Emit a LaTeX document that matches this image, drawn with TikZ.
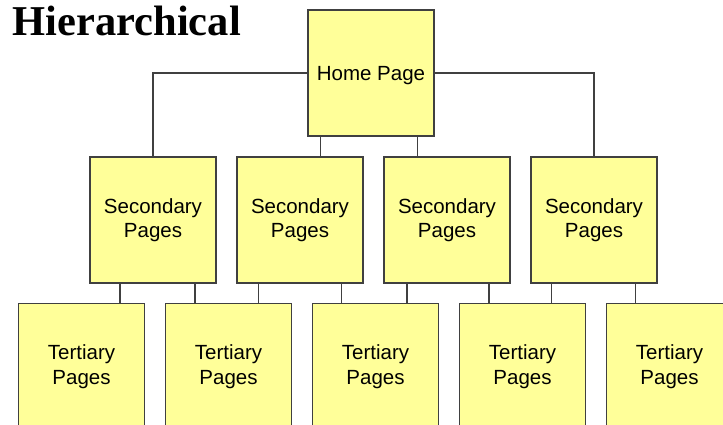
\documentclass[tikz,border=0pt]{standalone}
\usepackage{fontspec}
\setmainfont{Liberation Serif}
\newfontfamily\pagefont{Liberation Sans}
\usepackage{xcolor}
\definecolor{pageyellow}{HTML}{FFFF99}
\definecolor{edgegray}{HTML}{404040}
\tikzset{
  pagebox/.style={draw=edgegray,fill=pageyellow,line width=1.2pt,
    minimum width=126pt,minimum height=126pt,inner sep=0pt,align=center,
    font=\pagefont\fontsize{20.5}{24.5}\selectfont},
  link/.style={draw=edgegray,line width=1.3pt}
}
\begin{document}
\begin{tikzpicture}[line cap=butt,line join=miter,x=1pt,y=1pt]
%frame of the picture
\useasboundingbox (0,0) rectangle (723,424);
\clip (0,0) rectangle (723,424);
%title
\node [anchor=base west,inner sep=0pt,font=\bfseries\fontsize{42.5}{48}\selectfont] (title) at (12.5,388) {Hierarchical};
%the pages
\node [pagebox,text depth=0pt] (home) at (371,351) {Home Page};
\node [pagebox] (sec1) at (153,204) {Secondary\\Pages};
\node [pagebox] (sec2) at (300,204) {Secondary\\Pages};
\node [pagebox] (sec3) at (447,204) {Secondary\\Pages};
\node [pagebox] (sec4) at (594,204) {Secondary\\Pages};
\node [pagebox] (ter1) at (81.5,57.5) {Tertiary\\Pages};
\node [pagebox] (ter2) at (228.5,57.5) {Tertiary\\Pages};
\node [pagebox] (ter3) at (375.5,57.5) {Tertiary\\Pages};
\node [pagebox] (ter4) at (522.5,57.5) {Tertiary\\Pages};
\node [pagebox] (ter5) at (669.5,57.5) {Tertiary\\Pages};
%home to secondary
\draw [link] (home.west) -| (sec1.north);
\draw [link] (home.east) -| (sec4.north);
\draw [link] ([xshift=-50.5]home.south) -- ([xshift=-50.5]home.south |- sec2.north);
\draw [link] ([xshift=46.5]home.south) -- ([xshift=46.5]home.south |- sec3.north);
%secondary to tertiary
\draw [link] ([xshift=-33]sec1.south) -- ([xshift=-33]sec1.south |- ter1.north);
\draw [link] ([xshift=42]sec1.south) -- ([xshift=42]sec1.south |- ter2.north);
\draw [link] ([xshift=-41.5]sec2.south) -- ([xshift=-41.5]sec2.south |- ter2.north);
\draw [link] ([xshift=41.5]sec2.south) -- ([xshift=41.5]sec2.south |- ter3.north);
\draw [link] ([xshift=-40]sec3.south) -- ([xshift=-40]sec3.south |- ter3.north);
\draw [link] ([xshift=42]sec3.south) -- ([xshift=42]sec3.south |- ter4.north);
\draw [link] ([xshift=-42.5]sec4.south) -- ([xshift=-42.5]sec4.south |- ter4.north);
\draw [link] ([xshift=41.5]sec4.south) -- ([xshift=41.5]sec4.south |- ter5.north);
\end{tikzpicture}
\end{document}
